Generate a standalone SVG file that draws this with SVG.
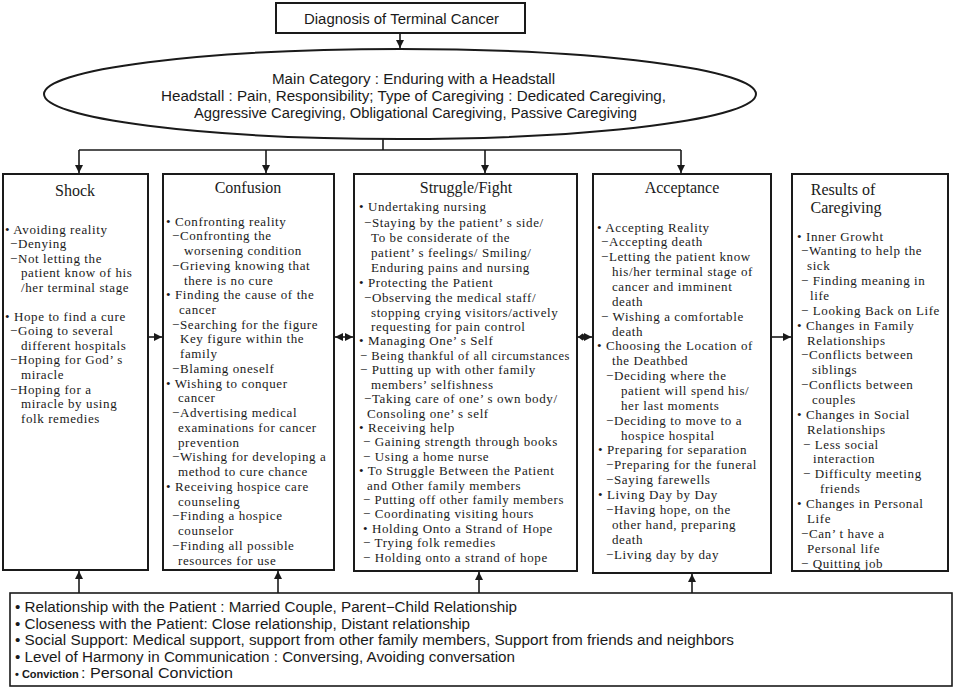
<svg xmlns="http://www.w3.org/2000/svg" width="956" height="688" viewBox="0 0 956 688" xml:space="preserve">
<style>
.box{fill:#fff;stroke:#1a1a1a;stroke-width:2}
.b{font-family:"Liberation Serif","Times New Roman",serif;font-size:13px;letter-spacing:0.6px;fill:#1a1a1a}
.t{font-family:"Liberation Serif","Times New Roman",serif;font-size:16px;fill:#1a1a1a;text-anchor:middle}
.s{font-family:"Liberation Sans Narrow","Liberation Sans",Arial,sans-serif;font-size:14px;fill:#1a1a1a}
.c{fill:none;stroke:#1a1a1a;stroke-width:1.6}
</style>
<defs>
<marker id="ah" viewBox="0 0 10 10" refX="10" refY="5" markerWidth="8" markerHeight="8" markerUnits="userSpaceOnUse" orient="auto-start-reverse"><path d="M0,0 L10,5 L0,10 z" fill="#1a1a1a"/></marker>
<marker id="dm" viewBox="0 0 10 10" refX="0" refY="5" markerWidth="10" markerHeight="9" markerUnits="userSpaceOnUse" orient="auto"><path d="M0,5 L5,1 L10,5 L5,9 z" fill="#1a1a1a"/></marker>
</defs>
<rect width="956" height="688" fill="#fff"/>

<g id="connectors">
<path class="c" d="M400,33 V48" marker-end="url(#ah)"/>
<path class="c" d="M383,139 V150 M79,150 H681"/>
<path class="c" d="M79,150 V173" marker-end="url(#ah)"/>
<path class="c" d="M266,150 V173" marker-end="url(#ah)"/>
<path class="c" d="M485,150 V173" marker-end="url(#ah)"/>
<path class="c" d="M681,150 V173" marker-end="url(#ah)"/>
<path class="c" d="M148,337 H162" marker-end="url(#ah)"/>
<path class="c" d="M335,337 H353" marker-start="url(#ah)" marker-end="url(#ah)"/>
<path class="c" d="M578,337 H592" marker-start="url(#dm)" marker-end="url(#ah)"/>
<path class="c" d="M772,337 H791" marker-end="url(#ah)"/>
<path class="c" d="M79,593 V571" marker-end="url(#ah)"/>
<path class="c" d="M278,593 V571" marker-end="url(#ah)"/>
<path class="c" d="M479,593 V572" marker-end="url(#ah)"/>
<path class="c" d="M692,593 V574" marker-end="url(#ah)"/>
</g>

<g id="diagnosis">
<rect class="box" x="276" y="3" width="249" height="30"/>
<text class="s" x="304" y="24" textLength="195" lengthAdjust="spacingAndGlyphs">Diagnosis of Terminal Cancer</text>
</g>

<g id="main-category">
<ellipse cx="400" cy="94" rx="356" ry="45" fill="#fff" stroke="#1a1a1a" stroke-width="2"/>
<text class="s" x="272" y="84" textLength="283" lengthAdjust="spacingAndGlyphs">Main Category : Enduring with a Headstall</text>
<text class="s" x="161" y="101" textLength="505" lengthAdjust="spacingAndGlyphs">Headstall : Pain, Responsibility;  Type of Caregiving : Dedicated Caregiving,</text>
<text class="s" x="194" y="118" textLength="443" lengthAdjust="spacingAndGlyphs">Aggressive Caregiving, Obligational Caregiving, Passive Caregiving</text>
</g>

<g id="shock">
<rect class="box" x="3" y="174" width="145" height="396"/>
<text class="t" x="75" y="196">Shock</text>
<text class="b" x="5" y="233.5">• Avoiding reality</text>
<text class="b" x="10" y="248">−Denying</text>
<text class="b" x="10" y="262.5">−Not letting the</text>
<text class="b" x="21" y="277">patient know of his</text>
<text class="b" x="21" y="292">/her terminal stage</text>
<text class="b" x="5" y="320.5">• Hope to find a cure</text>
<text class="b" x="10" y="335">−Going to several</text>
<text class="b" x="21" y="349.5">different hospitals</text>
<text class="b" x="10" y="364">−Hoping for God’ s</text>
<text class="b" x="21" y="379">miracle</text>
<text class="b" x="10" y="393.5">−Hoping for a</text>
<text class="b" x="21" y="408">miracle by using</text>
<text class="b" x="21" y="422.5">folk remedies</text>
</g>

<g id="confusion">
<rect class="box" x="163" y="174" width="171" height="396"/>
<text class="t" x="248" y="193">Confusion</text>
<text class="b" x="166" y="225.5">• Confronting reality</text>
<text class="b" x="172" y="240.2">−Confronting the</text>
<text class="b" x="184" y="255">worsening condition</text>
<text class="b" x="172" y="269.7">−Grieving knowing that</text>
<text class="b" x="184" y="284.5">there is no cure</text>
<text class="b" x="166" y="299.2">• Finding the cause of the</text>
<text class="b" x="179" y="313.9">cancer</text>
<text class="b" x="172" y="328.7">−Searching for the figure</text>
<text class="b" x="180" y="343.4">Key figure within the</text>
<text class="b" x="180" y="358.2">family</text>
<text class="b" x="172" y="372.9">−Blaming oneself</text>
<text class="b" x="166" y="387.6">• Wishing to conquer</text>
<text class="b" x="178" y="402.4">cancer</text>
<text class="b" x="172" y="417.1">−Advertising medical</text>
<text class="b" x="178" y="431.9">examinations for cancer</text>
<text class="b" x="178" y="446.6">prevention</text>
<text class="b" x="172" y="461.3">−Wishing for developing a</text>
<text class="b" x="178" y="476.1">method to cure chance</text>
<text class="b" x="166" y="490.8">• Receiving hospice care</text>
<text class="b" x="178" y="505.6">counseling</text>
<text class="b" x="172" y="520.3">−Finding a hospice</text>
<text class="b" x="178" y="535">counselor</text>
<text class="b" x="172" y="549.8">−Finding all possible</text>
<text class="b" x="178" y="564.5">resources for use</text>
</g>

<g id="struggle">
<rect class="box" x="354" y="174" width="223" height="397"/>
<text class="t" x="466" y="193">Struggle/Fight</text>
<text class="b" x="359" y="210.5">• Undertaking nursing</text>
<text class="b" x="364" y="226.5">−Staying by the patient’ s side/</text>
<text class="b" x="371" y="242">To be considerate of the</text>
<text class="b" x="371" y="257">patient’ s feelings/ Smiling/</text>
<text class="b" x="371" y="272">Enduring pains and nursing</text>
<text class="b" x="359" y="286.5">• Protecting the Patient</text>
<text class="b" x="364" y="301.5">−Observing the medical staff/</text>
<text class="b" x="371" y="316.5">stopping crying visitors/actively</text>
<text class="b" x="371" y="331">requesting for pain control</text>
<text class="b" x="359" y="345.4">• Managing One’ s Self</text>
<text class="b" x="360" y="359.8" textLength="210" lengthAdjust="spacingAndGlyphs">− Being thankful of all circumstances</text>
<text class="b" x="360" y="374.2">− Putting up with other family</text>
<text class="b" x="371" y="388.6">members’  selfishness</text>
<text class="b" x="364" y="403.1">−Taking care of one’ s own body/</text>
<text class="b" x="367" y="417.5">Consoling one’ s self</text>
<text class="b" x="359" y="431.9">• Receiving help</text>
<text class="b" x="363" y="446.3">− Gaining strength through books</text>
<text class="b" x="363" y="460.7">− Using a home nurse</text>
<text class="b" x="359" y="475.1">• To Struggle Between the Patient</text>
<text class="b" x="367" y="489.5">and Other family members</text>
<text class="b" x="363" y="503.9" textLength="201" lengthAdjust="spacingAndGlyphs">− Putting off other family members</text>
<text class="b" x="363" y="518.4">− Coordinating visiting hours</text>
<text class="b" x="363" y="532.8">• Holding Onto a Strand of Hope</text>
<text class="b" x="363" y="547.2">− Trying folk remedies</text>
<text class="b" x="363" y="561.5">− Holding onto a strand of hope</text>
</g>

<g id="acceptance">
<rect class="box" x="593" y="174" width="178" height="399"/>
<text class="t" x="682" y="193">Acceptance</text>
<text class="b" x="597" y="231.5">• Accepting Reality</text>
<text class="b" x="601" y="246.4">−Accepting death</text>
<text class="b" x="601" y="261.2">−Letting the patient know</text>
<text class="b" x="612" y="276.1">his/her terminal stage of</text>
<text class="b" x="612" y="290.9">cancer and imminent</text>
<text class="b" x="612" y="305.8">death</text>
<text class="b" x="601" y="320.7">−  Wishing a comfortable</text>
<text class="b" x="612" y="335.5">death</text>
<text class="b" x="597" y="350.4">• Choosing the Location of</text>
<text class="b" x="612" y="365.2">the Deathbed</text>
<text class="b" x="606" y="380.1">−Deciding where the</text>
<text class="b" x="621" y="395">patient will spend his/</text>
<text class="b" x="621" y="409.8">her last moments</text>
<text class="b" x="606" y="424.7">−Deciding to move to a</text>
<text class="b" x="621" y="439.5">hospice hospital</text>
<text class="b" x="598" y="454.4">• Preparing for separation</text>
<text class="b" x="606" y="469.3">−Preparing for the funeral</text>
<text class="b" x="606" y="484.1">−Saying farewells</text>
<text class="b" x="598" y="499">• Living Day by Day</text>
<text class="b" x="606" y="513.8">−Having hope, on the</text>
<text class="b" x="612" y="528.7">other hand, preparing</text>
<text class="b" x="612" y="543.6">death</text>
<text class="b" x="606" y="558.5">−Living day by day</text>
</g>

<g id="results">
<rect class="box" x="792" y="174" width="156" height="397"/>
<text class="t" x="843" y="195">Results of</text>
<text class="t" x="846" y="213">Caregiving</text>
<text class="b" x="797" y="240.5">• Inner Growht</text>
<text class="b" x="801" y="255.4">−Wanting to help the</text>
<text class="b" x="807" y="270.2">sick</text>
<text class="b" x="801" y="285.1">− Finding meaning in</text>
<text class="b" x="810" y="299.9">life</text>
<text class="b" x="801" y="314.8">− Looking Back on Life</text>
<text class="b" x="797" y="329.7">• Changes in Family</text>
<text class="b" x="807" y="344.5">Relationships</text>
<text class="b" x="801" y="359.4">−Conflicts between</text>
<text class="b" x="812" y="374.2">siblings</text>
<text class="b" x="801" y="389.1">−Conflicts between</text>
<text class="b" x="812" y="404">couples</text>
<text class="b" x="797" y="418.8">• Changes in Social</text>
<text class="b" x="807" y="433.7">Relationships</text>
<text class="b" x="803" y="448.5">− Less social</text>
<text class="b" x="813" y="463.4">interaction</text>
<text class="b" x="803" y="478.3">− Difficulty meeting</text>
<text class="b" x="820" y="493.1">friends</text>
<text class="b" x="797" y="508">• Changes in Personal</text>
<text class="b" x="807" y="522.8">Life</text>
<text class="b" x="801" y="537.7">−Can’ t have a</text>
<text class="b" x="807" y="552.6">Personal life</text>
<text class="b" x="801" y="567.5">− Quitting job</text>
</g>

<g id="factors">
<rect x="10" y="593" width="942" height="93" fill="#fff" stroke="#1a1a1a" stroke-width="1.6"/>
<text class="s" x="15" y="612" textLength="502" lengthAdjust="spacingAndGlyphs">• Relationship with the Patient : Married Couple, Parent−Child Relationship</text>
<text class="s" x="15" y="628.5" textLength="455" lengthAdjust="spacingAndGlyphs">• Closeness with the Patient: Close relationship, Distant relationship</text>
<text class="s" x="15" y="645" textLength="719" lengthAdjust="spacingAndGlyphs">• Social Support:  Medical support, support from other family members, Support from friends and neighbors</text>
<text class="s" x="15" y="661.5" textLength="500" lengthAdjust="spacingAndGlyphs">• Level of Harmony in Communication : Conversing, Avoiding conversation</text>
<text class="s" x="15" y="678" font-weight="bold" style="font-size:11px">• Conviction</text>
<text class="s" x="81" y="678" textLength="152" lengthAdjust="spacingAndGlyphs">: Personal Conviction</text>
</g>
</svg>
